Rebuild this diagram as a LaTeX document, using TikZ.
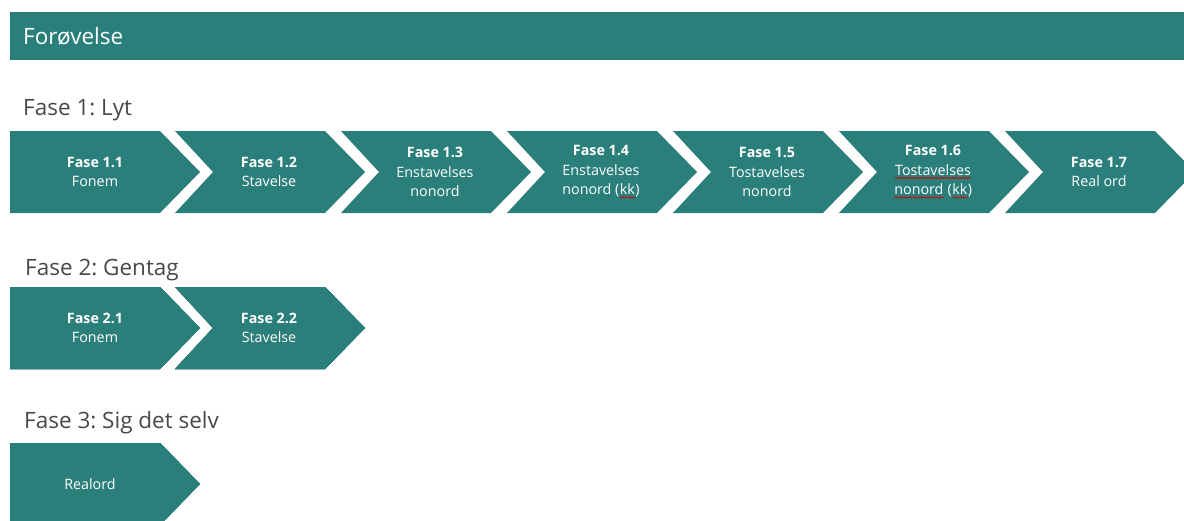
\documentclass[tikz,border=0pt]{standalone}
\usepackage{fontspec}
\setmainfont{Open Sans}
\usepackage{tikz}
\usetikzlibrary{decorations.pathmorphing}
\frenchspacing
\definecolor{fasegreen}{RGB}{43,127,123}
\definecolor{headgrey}{RGB}{72,72,72}
\newcommand{\spell}[1]{\tikz[baseline=(w.base)]{\node[inner sep=0pt] (w) {#1};
	\draw[red!85!black, line width=0.6pt, decoration={snake, amplitude=0.7pt, segment length=2.6pt}, decorate] ([yshift=-2.6pt]w.base west) -- ([yshift=-2.6pt]w.base east);}}
\newcommand{\fase}[1]{{\bfseries #1}}
\newcommand{\chevron}[3]{\fill[fasegreen] (#1,#2) -- ++(150,0) -- ++(40,41) -- ++(-40,41) -- ++(-150,0) -- ++(#3,-41) -- cycle;}
\tikzset{
	fasetext/.style={text=white, align=center, inner sep=0pt, font=\fontsize{14.3}{19.5}\selectfont\mdseries},
	heading/.style={anchor=base west, inner sep=0pt, text=headgrey, font=\fontsize{22.5}{26}\selectfont},
}

\begin{document}
\begin{tikzpicture}[x=1pt,y=-1pt]
			\useasboundingbox (0,0) rectangle (1184,520);
			\clip (0,0) rectangle (1184,520);
			\fill[fasegreen] (10,12) rectangle (1190,60);
			\node[heading, text=white] (forovelse) at (23,44) {Forøvelse};
			\node[heading] (fase1) at (23,115) {Fase 1: Lyt};
			\node[heading] (fase2) at (25,275) {Fase 2: Gentag};
			\node[heading] (fase3) at (24,428) {Fase 3: Sig det selv};
			\chevron{10}{131}{0}
			\foreach \i in {0,...,5}
				\chevron{175+166*\i}{131}{38}
			\chevron{10}{287}{0}
			\chevron{175}{287}{38}
			\chevron{10}{443}{0}
			\node[fasetext] (realord) at (90,484) {Realord};
			\node[fasetext] (f12) at (269,172) {\fase{Fase 1.2}\\Stavelse};
			\node[fasetext] (f13) at (435,172) {\fase{Fase 1.3}\\Enstavelses\\nonord};
			\node[fasetext] (f14) at (601,172) {\fase{Fase 1.4}\\Enstavelses\\nonord (\spell{kk})};
			\node[fasetext] (f15) at (767,172) {\fase{Fase 1.5}\\Tostavelses\\nonord};
			\node[fasetext] (f16) at (933,172) {\fase{Fase 1.6}\\\spell{Tostavelses}\\\spell{nonord} (\spell{kk})};
			\node[fasetext] (f17) at (1099,172) {\fase{Fase 1.7}\\Real ord};
			\node[fasetext] (f21) at (95,328) {\fase{Fase 2.1}\\Fonem};
			\node[fasetext] (f22) at (269,328) {\fase{Fase 2.2}\\Stavelse};
			\node[fasetext] (f11) at (95,172) {\fase{Fase 1.1}\\Fonem};
\end{tikzpicture}
\end{document}
